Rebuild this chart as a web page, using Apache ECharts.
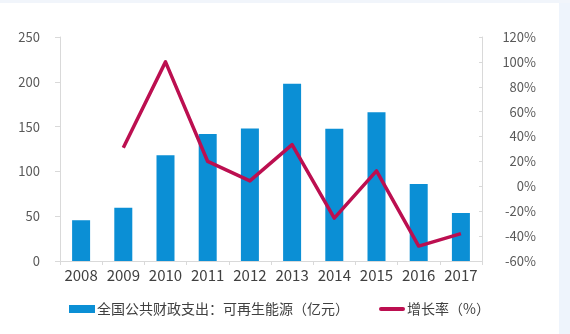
<!DOCTYPE html>
<html>
<head>
<meta charset="utf-8">
<script src="https://cdn.jsdelivr.net/npm/echarts@6/dist/echarts.min.js"></script>
<style>
  html, body { margin: 0; padding: 0; background: #ffffff; }
  #chart { width: 570px; height: 334px; }
</style>
</head>
<body>
<div id="chart"></div>
<script>
// Years on the category axis
const years = ['2008', '2009', '2010', '2011', '2012', '2013', '2014', '2015', '2016', '2017'];
// National public fiscal spending on renewable energy (100 million yuan)
const spending = [45.5, 59.5, 118, 141.7, 148, 197.9, 147.7, 166, 86, 53.6];
// Year-on-year growth rate (%), no value for the first year
const growth = [null, 31, 100, 20, 4.4, 33.5, -25.5, 12.4, -48, -38];

const barName = '全国公共财政支出：可再生能源（亿元）';
const lineName = '增长率（%）';

const FONT = '"Noto Sans CJK SC", "Noto Sans", sans-serif';
const AXIS_GRAY = '#d9d9d9';
const LINE_COLOR = '#bc0f50';

const chart = echarts.init(document.getElementById('chart'));
chart.setOption({
  animation: false,
  backgroundColor: '#ffffff',
  textStyle: { fontFamily: FONT },
  graphic: [
    { type: 'rect', left: 559, top: 0, shape: { width: 11, height: 334 }, style: { fill: '#eef4fc' }, silent: true },
    { type: 'rect', left: 0, top: 0, shape: { width: 570, height: 3 }, style: { fill: '#f1f5fb' }, silent: true }
  ],
  grid: { left: 60, right: 88, top: 37, bottom: 73 },
  legend: {
    left: 64,
    top: 297,
    itemWidth: 26,
    itemHeight: 8,
    itemGap: 30,
    symbolKeepAspect: true,
    textStyle: { fontFamily: FONT, fontSize: 14, color: '#404040', padding: [0, 0, 0, -3] },
    data: [
      { name: barName, icon: 'rect' },
      { name: lineName, icon: 'path://M2,0L24,0A2,2 0 0 1 24,4L2,4A2,2 0 0 1 2,0Z', itemStyle: { color: LINE_COLOR } }
    ]
  },
  xAxis: {
    type: 'category',
    data: years,
    axisLine: { lineStyle: { color: AXIS_GRAY, width: 1 } },
    axisTick: { show: true, length: 4, lineStyle: { color: AXIS_GRAY } },
    axisLabel: { fontFamily: FONT, fontSize: 15, color: '#404040', margin: 7, interval: 0 }
  },
  yAxis: [
    {
      type: 'value',
      min: 0, max: 250, interval: 50,
      axisLine: { show: true, lineStyle: { color: AXIS_GRAY } },
      axisTick: { show: true, length: 5, lineStyle: { color: AXIS_GRAY } },
      axisLabel: { fontFamily: FONT, fontSize: 13, color: '#595959', margin: 20 },
      splitLine: { show: false }
    },
    {
      type: 'value',
      min: -60, max: 120, interval: 20,
      position: 'right',
      axisLine: { show: true, lineStyle: { color: AXIS_GRAY } },
      axisTick: { show: true, inside: true, length: 3, lineStyle: { color: AXIS_GRAY } },
      axisLabel: {
        fontFamily: FONT, fontSize: 13, color: '#595959',
        align: 'right', margin: 54,
        formatter: '{value}%'
      },
      splitLine: { show: false }
    }
  ],
  series: [
    {
      name: barName,
      type: 'bar',
      yAxisIndex: 0,
      data: spending,
      barWidth: 18,
      itemStyle: { color: '#0b8fd5' }
    },
    {
      name: lineName,
      type: 'line',
      yAxisIndex: 1,
      data: growth,
      symbol: 'none',
      lineStyle: { color: LINE_COLOR, width: 3.5, join: 'round' },
      itemStyle: { color: LINE_COLOR }
    }
  ]
});
</script>
</body>
</html>
